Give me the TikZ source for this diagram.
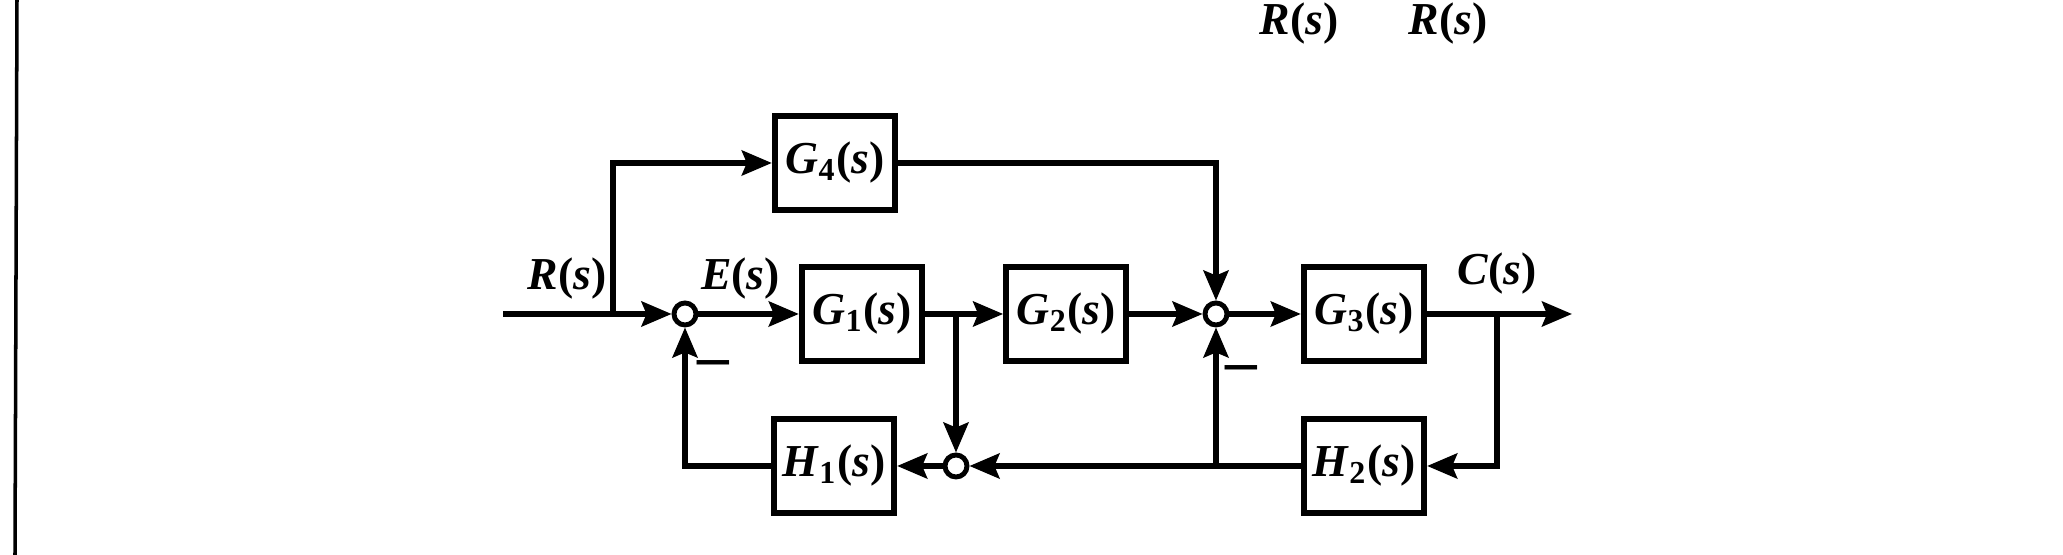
\documentclass[tikz,border=0pt]{standalone}
\usepackage{amssymb,amsmath}
\usepackage{fontspec}
\setmainfont{Liberation Serif}
\usepackage{tikz}
\usetikzlibrary{arrows.meta,calc,positioning}

\newcommand{\tf}[2]{\textbf{\textit{#1}\textsubscript{#2}(\textit{s})}}
\newcommand{\sg}[1]{\textbf{\textit{#1}(\textit{s})}}

\begin{document}
\begin{tikzpicture}[>={Stealth[length=3mm,width=2.5mm,inset=0.5mm]},line width=1.5pt,node distance=1cm,
	block/.style={draw,line width=1.8pt,minimum width=1.2cm,minimum height=0.94cm,inner sep=0pt,font=\fontsize{13}{15}\selectfont},
	sumpt/.style={draw,circle,line width=1.4pt,minimum size=0.22cm,inner sep=0pt},
	sig/.style={font=\fontsize{13}{15}\selectfont},
	minus/.style={font=\bfseries\fontsize{18}{18}\selectfont,inner sep=0pt}]
	\useasboundingbox (0,0) rectangle (20.63,5.55);
	\draw[line width=1pt] (0.17,5.55) -- (0.15,0);
	% forward path
	\coordinate (in) at (5.03,2.41);
	\coordinate (br) at (6.13,2.41);
	\node[sumpt] (s_1) at (6.85,2.41) {};
	\node[block] at (8.62,2.41) (g_1) {\tf{G}{1}};
	\node[block] [right=0.78cm of g_1] (g_2) {\tf{G}{2}};
	\node[sumpt] at (12.16,2.41) (s_2) {};
	\node[block] at (13.64,2.41) (g_3) {\tf{G}{3}};
	\node[block] at (8.35,3.92) (g_4) {\tf{G}{4}};
	\coordinate (p_2) at (14.97,2.41);
	\coordinate (out) at (15.72,2.41);
	% feedback path
	\node[block] at (13.64,0.89) (h_2) {\tf{H}{2}};
	\node[block] at (8.34,0.89) (h_1) {\tf{H}{1}};
	\node[sumpt] at (9.56,0.89) (s_3) {};
	\coordinate (p_1) at (s_3 |- g_1.east);
	\coordinate (j_2) at (s_2 |- h_2.west);
	\path[->]
		(in) edge node[sig,above,pos=0.38] {\sg{R}} (s_1)
		(s_1) edge node[sig,above,pos=0.42] {\sg{E}} (g_1)
		(g_1) edge (g_2)
		(g_2) edge (s_2)
		(s_2) edge (g_3)
		(g_3) edge (out)
		(h_2) edge (s_3)
		(j_2) edge (s_2)
		(p_1) edge (s_3)
		(s_3) edge (h_1);
	\draw[->] (br) |- (g_4);
	\draw[->] (g_4) -| (s_2);
	\draw[->] (p_2) |- (h_2);
	\draw[->] (h_1) -| (s_1);
	\node[sig] at ($(p_2)+(0,0.4)$) (c_s) {\sg{C}};
	\node[minus] at ($(s_1)+(0.28,-0.55)$) (m_1) {–};
	\node[minus] at ($(s_2)+(0.25,-0.6)$) (m_2) {–};
	% labels at the top
	\node[sig,anchor=base] at (12.99,5.2) (r_a) {\sg{R}};
	\node[sig,anchor=base] at (14.48,5.2) (r_b) {\sg{R}};
\end{tikzpicture}
\end{document}
